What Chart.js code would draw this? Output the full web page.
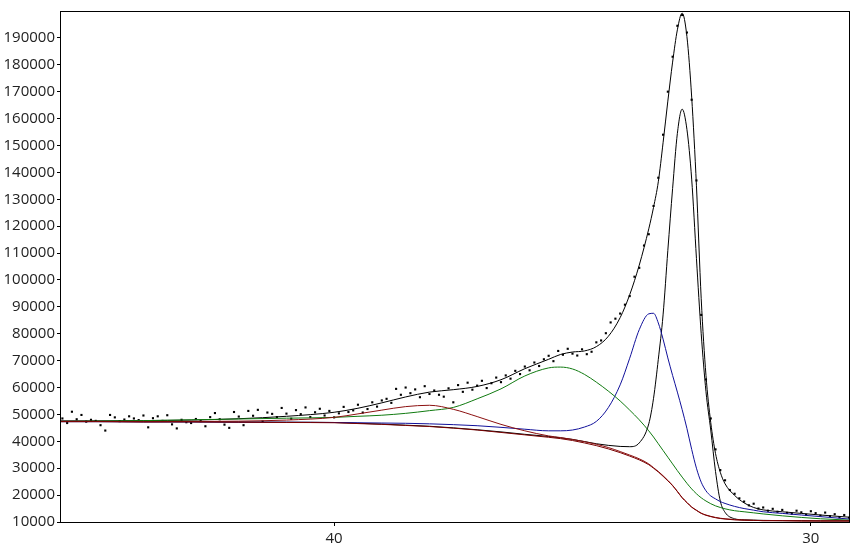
<!DOCTYPE html>
<html>
<head>
<meta charset="utf-8">
<script src="https://cdn.jsdelivr.net/npm/chart.js@4/dist/chart.umd.min.js"></script>
<style>
  html, body { margin: 0; padding: 0; background: #fff; }
  #wrap { width: 859px; height: 550px; }
</style>
</head>
<body>
<div id="wrap"><canvas id="spectrum" width="859" height="550"></canvas></div>
<script>
const scanStart = 45.7;
const scanStep = 0.1;
const counts = [
  48500, 46800, 51000, 48200, 49800, 47300, 48000, 47600,
  46000, 44000, 49800, 48900, 47500, 48100, 49300, 48500, 47900, 49600,
  45200, 48600, 49300, 47600, 49700, 46300, 44800, 48000, 47100, 46800,
  48300, 47500, 45600, 49000, 50500, 48200, 46200, 45000, 50900, 49200,
  46000, 51300, 49500, 51700, 47400, 50700, 50200, 49000, 52400, 50300,
  48400, 51600, 50100, 52600, 49000, 50800, 52100, 49600, 51300, 48900,
  50400, 52800, 50900, 51500, 53600, 50700, 52000, 54500, 52900, 55200,
  55800, 54300, 59500, 57300, 60000, 57900, 59300, 56400, 60500, 57600,
  58900, 57300, 56600, 59700, 54500, 60900, 58400, 61800, 59200, 60700,
  62500, 59800, 61600, 63700, 62000, 64500, 63300, 66200, 65000, 67800,
  66400, 69300, 68000, 70500, 71800, 69800, 73600, 72200, 74400, 72600,
  71900, 74200, 72400, 73300, 76800, 77500, 80200, 84200, 85600, 87500,
  90800, 94000, 101200, 104500, 112800, 117000, 127500, 138000, 154000, 170000,
  183000, 194500, 198500, 192000, 167000, 137000, 87000, 63000, 48500, 37000,
  29300, 25500, 21900, 20500, 18800, 17600, 16200, 16800, 15000, 15400,
  14200, 14900, 13800, 14500, 13400, 13100, 14200, 13600, 12700, 14000,
  13300, 12400, 13500, 12200, 12900, 11800, 12600, 11600
];

// fit curves, sampled at these energies
const fitEnergy = [45.75, 45, 44, 43, 42, 41, 40, 39.5, 39, 38.5, 38, 37.5, 37, 36.5, 36, 35.5, 35.25, 35, 34.75, 34.5, 34.25, 34, 33.8, 33.6, 33.4, 33.3, 33.2, 33.1, 33.0, 32.9, 32.8, 32.7, 32.6, 32.5, 32.4, 32.3, 32.2, 32.1, 32.0, 31.9, 31.8, 31.6, 31.4, 31.2, 31.0, 30.6, 30.2, 29.8, 29.2];

const envelope = [47600, 47600, 47700, 47900, 48400, 49300, 50800, 52300, 54300, 56500, 58300, 59200, 60400, 62900, 67000, 70500, 72300, 73200, 73600, 75200, 79000, 86000, 94500, 105500, 119000, 127000, 136500, 151000, 166500, 181000, 193000, 199200, 190500, 168000, 135000, 93000, 64500, 47000, 35500, 28500, 24200, 19900, 17100, 15400, 14500, 13800, 13200, 12600, 11800];
const mainPeak = [47400, 47400, 47300, 47300, 47200, 47100, 47000, 46700, 46400, 46000, 45600, 45000, 44300, 43500, 42600, 41800, 41300, 40700, 39900, 39100, 38500, 38100, 38000, 39400, 46500, 56000, 70500, 87000, 111000, 134000, 154500, 163500, 156000, 137500, 108000, 80000, 58500, 44200, 28800, 17800, 13600, 11200, 10800, 10700, 10600, 10500, 10500, 10400, 10400];
const bluePeak = [47300, 47300, 47200, 47200, 47100, 47100, 47000, 46900, 46800, 46700, 46500, 46200, 45800, 45200, 44500, 43900, 43900, 44200, 45300, 47400, 52500, 61000, 70900, 81500, 87400, 87600, 84000, 78000, 71000, 64500, 58300, 51800, 44800, 37000, 30000, 24800, 21600, 19700, 18600, 17600, 16900, 15800, 15000, 14400, 13800, 13200, 12600, 12000, 11100];
const greenPeak = [47400, 47500, 47700, 48000, 48300, 48600, 48900, 49300, 49700, 50400, 51400, 52600, 55800, 59500, 64300, 67300, 67600, 66900, 64900, 62000, 58700, 55000, 51600, 48000, 43900, 41600, 39100, 36600, 34100, 31600, 29100, 26700, 24400, 22300, 20500, 19000, 17800, 16800, 16000, 15400, 14900, 14200, 13800, 13400, 13000, 12300, 11700, 11200, 10700];
const redPeak = [47400, 47400, 47300, 47400, 47500, 47900, 48900, 50200, 51600, 52900, 53400, 51900, 49200, 46300, 43900, 42000, 41400, 40700, 39900, 38900, 37700, 36200, 34900, 33500, 31600, 30200, 28800, 27200, 25500, 23600, 21400, 19100, 17300, 15600, 14400, 13300, 12600, 12100, 11700, 11400, 11200, 10900, 10700, 10600, 10500, 10500, 10400, 10400, 10400];
const background = [47300, 47300, 47200, 47200, 47100, 47000, 46900, 46600, 46300, 45900, 45500, 44900, 44200, 43300, 42400, 41500, 41000, 40300, 39400, 38400, 37200, 35800, 34500, 33100, 31300, 30000, 28600, 27000, 25300, 23500, 21300, 19000, 17200, 15500, 14300, 13200, 12500, 12000, 11600, 11300, 11100, 10800, 10700, 10600, 10500, 10500, 10400, 10400, 10400];

const xTicks = [40, 30];

const curve = (vals) => fitEnergy.map((e, i) => ({ x: e, y: vals[i] }));
const points = counts.map((c, i) => ({ x: +(scanStart - i * scanStep).toFixed(2), y: c }));

const line = (label, vals, color) => ({
  label: label,
  data: curve(vals),
  borderColor: color,
  borderWidth: 1,
  pointRadius: 0,
  fill: false,
  cubicInterpolationMode: "monotone",
});

const frame = {
  id: "frame",
  afterDraw(chart) {
    const a = chart.chartArea;
    const ctx = chart.ctx;
    ctx.save();
    ctx.strokeStyle = "#000";
    ctx.lineWidth = 1;
    ctx.strokeRect(Math.round(a.left) + 0.5, Math.round(a.top) + 0.5, Math.round(a.right - a.left), Math.round(a.bottom - a.top));
    ctx.restore();
  },
};

new Chart(document.getElementById("spectrum"), {
  type: "line",
  data: {
    datasets: [
      line("Background", background, "#7a0000"),
      line("Component 4", redPeak, "#8b1010"),
      line("Component 3", greenPeak, "#107a10"),
      line("Component 2", bluePeak, "#10109a"),
      line("Component 1", mainPeak, "#000000"),
      line("Envelope", envelope, "#000000"),
      {
        label: "Counts",
        data: points,
        showLine: false,
        pointStyle: "rect",
        pointRadius: 1.5,
        pointBorderWidth: 0,
        pointBackgroundColor: "#000",
        pointBorderColor: "#000",
      },
    ],
  },
  options: {
    responsive: false,
    animation: false,
    devicePixelRatio: 1,
    layout: { padding: { top: 10, right: 10, left: 0, bottom: 0 } },
    plugins: { legend: { display: false }, tooltip: { enabled: false } },
    scales: {
      x: {
        type: "linear",
        reverse: true,
        min: 29.2,
        max: 45.75,
        afterBuildTicks: (s) => { s.ticks = xTicks.map((v) => ({ value: v })); },
        afterFit: (s) => { s.height = 28; },
        grid: { drawOnChartArea: false, drawTicks: true, tickLength: 4, tickColor: "#000" },
        border: { display: false },
        ticks: { color: "#222", padding: 4, font: { family: "Open Sans", size: 15 }, maxRotation: 0 },
      },
      y: {
        min: 10000,
        max: 200000,
        afterBuildTicks: (s) => {
          const t = [];
          for (let v = 10000; v <= 190000; v += 10000) t.push({ value: v });
          s.ticks = t;
        },
        afterFit: (s) => { s.width = 60; },
        grid: { drawOnChartArea: false, drawTicks: true, tickLength: 3, tickColor: "#000" },
        border: { display: false },
        ticks: { color: "#222", padding: 2, font: { family: "Open Sans", size: 15 }, callback: (v) => String(v) },
      },
    },
  },
  plugins: [frame],
});
</script>
</body>
</html>
